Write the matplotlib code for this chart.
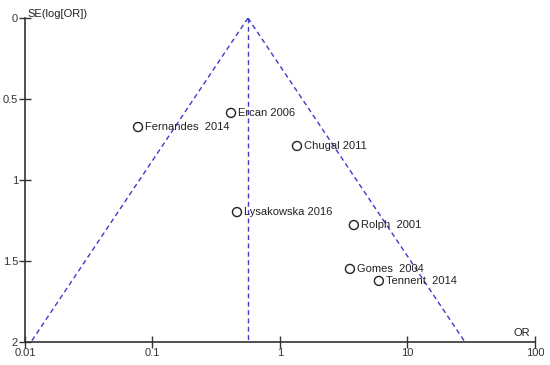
import matplotlib.pyplot as plt
import numpy as np

plt.rcParams['font.family'] = ['Liberation Sans', 'DejaVu Sans']

# studies: odds ratio and standard error of log(OR)
studies = ["Fernandes  2014", "Ercan 2006", "Chugal 2011", "Lysakowska 2016",
           "Rolph  2001", "Gomes  2004", "Tennent  2014"]
odds_ratio = [0.077, 0.413, 1.36, 0.46, 3.8, 3.54, 5.97]
se_log_or = [0.673, 0.586, 0.79, 1.198, 1.278, 1.549, 1.623]

pooled_or = 0.561
se_max = 2.0

fig = plt.figure(figsize=(5.5, 3.65), dpi=100)
ax = fig.add_axes([0.0455, 0.063, 0.927, 0.8877])

line_col = '#3b3bcc'
se_grid = np.array([0.0, se_max])
ln_p = np.log(pooled_or)
ax.plot(np.exp(ln_p - 1.96 * se_grid), se_grid, color=line_col, lw=1, ls=(0, (3.5, 2.5)))
ax.plot(np.exp(ln_p + 1.96 * se_grid), se_grid, color=line_col, lw=1, ls=(0, (3.5, 2.5)))
ax.plot([pooled_or, pooled_or], se_grid, color=line_col, lw=1, ls=(0, (3.5, 2.5)))

ax.scatter(odds_ratio, se_log_or, s=42, facecolors='none', edgecolors='#222222',
           linewidths=1.0, zorder=3)
for name, x, y in zip(studies, odds_ratio, se_log_or):
    ax.annotate(name, (x, y), xytext=(5, 0), textcoords='offset points',
                va='center', ha='left', fontsize=8, color='#222222')

ax.set_xscale('log')
ax.set_xlim(0.01, 100)
ax.set_ylim(2, 0)
ax.set_xticks([0.01, 0.1, 1, 10, 100])
ax.set_xticklabels(['0.01', '0.1', '1', '10', '100'])
ax.xaxis.set_minor_locator(plt.NullLocator())
ax.set_yticks([0, 0.5, 1, 1.5, 2])
ax.set_yticklabels(['0', '0.5', '1', '1.5', '2'])

for side in ['top', 'right']:
    ax.spines[side].set_visible(False)
for side in ['left', 'bottom']:
    ax.spines[side].set_color('#333333')
    ax.spines[side].set_linewidth(1.2)
ax.tick_params(direction='inout', length=8, width=1, colors='#333333',
               labelsize=8, pad=0)
ax.tick_params(axis='y', pad=1)

ax.text(0.005, 0.997, 'SE(log[OR])', transform=ax.transAxes, fontsize=8,
        color='#222222', ha='left', va='bottom')
ax.text(0.99, 0.012, 'OR', transform=ax.transAxes, fontsize=8,
        color='#222222', ha='right', va='bottom')

fig.savefig('out.png', dpi=100)
